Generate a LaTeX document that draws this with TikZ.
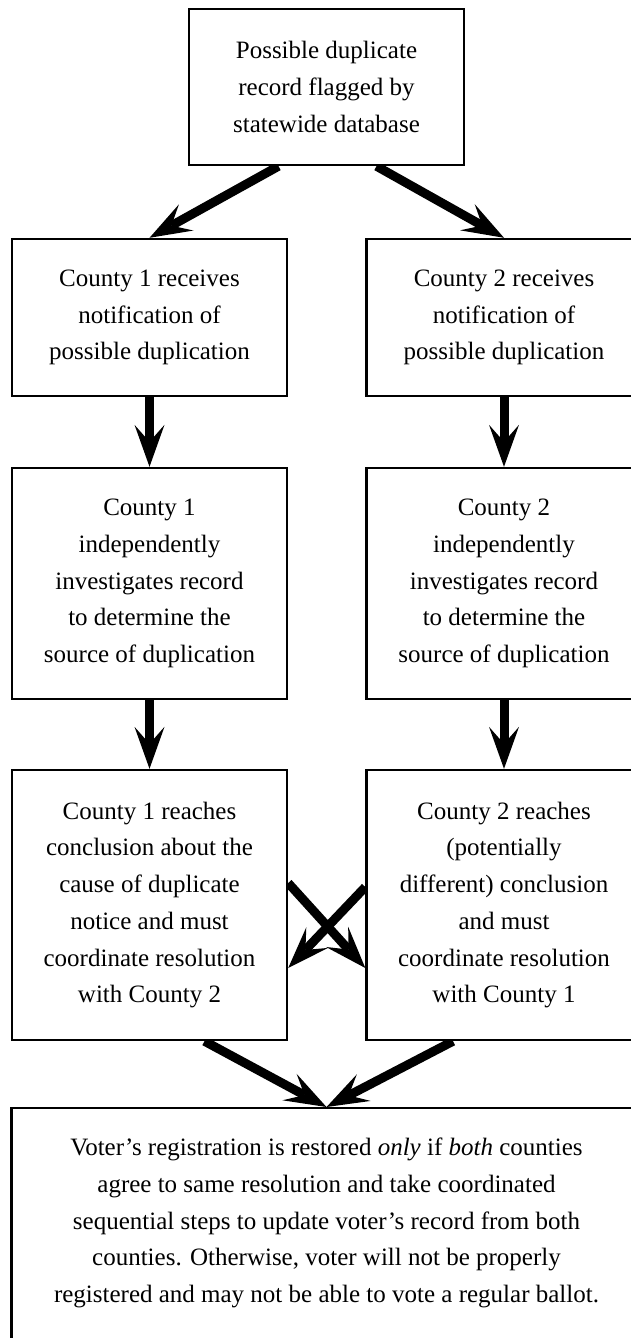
\documentclass[tikz,border=0pt]{standalone}
\usepackage{fontspec}
\setmainfont{Liberation Serif}
\usetikzlibrary{arrows.meta,backgrounds}

\begin{document}
\begin{tikzpicture}[x=1pt,y=-1pt]

\useasboundingbox (0,0) rectangle (631,1338);
\clip (0,0) rectangle (631,1338);

% Draw the boxes of the chart
\tikzstyle{every node}=[draw,fill=white,line width=2.4pt,shape=rectangle,align=center,inner sep=0pt,font=\fontsize{25}{36.7}\selectfont];
\tikzstyle{flow}=[line width=9pt,-{Stealth[length=42pt,width=30pt,inset=17pt,line width=0pt]}];

\node[minimum width=275pt,minimum height=156pt] (t) at (326.5,87)
  {Possible duplicate\\record flagged by\\statewide database};

\foreach \cty/\x in {1/149.5,2/504}{
  \node[minimum width=275pt,minimum height=157pt] (a\cty) at (\x,317.5)
    {County \cty{} receives\\notification of\\possible duplication};
  \node[minimum width=275pt,minimum height=231pt] (b\cty) at (\x,583.5)
    {County \cty\\independently\\investigates record\\to determine the\\source of duplication};
}

\node[minimum width=275pt,minimum height=270pt] (c1) at (149.5,905)
  {County 1 reaches\\conclusion about the\\cause of duplicate\\notice and must\\coordinate resolution\\with County 2};
\node[minimum width=275pt,minimum height=270pt] (c2) at (504,905)
  {County 2 reaches\\(potentially\\different) conclusion\\and must\\coordinate resolution\\with County 1};

% The last box runs on below the page
\node[minimum width=630pt,inner ysep=30pt,text depth=190pt,anchor=north] (r) at (326.5,1107)
  {Voter's registration is restored \emph{only} if \emph{both} counties\\agree to same resolution and take coordinated\\sequential steps to update voter's record from both\\counties. Otherwise, voter will not be properly\\registered and may not be able to vote a regular ballot.};

% Arrows go behind the boxes
\begin{scope}[on background layer]
\draw[flow] ([xshift=-48pt]t.south) -- (a1.north);
\draw[flow] ([xshift=50pt]t.south) -- (a2.north);

\foreach \cty in {1,2}{
  \draw[flow] (a\cty) -- (b\cty);
  \draw[flow] (b\cty) -- (c\cty);
}

% Counties coordinate with each other
\draw[flow] ([yshift=22pt]c1.east) -- ([yshift=-63pt]c2.west);
\draw[flow] ([yshift=18pt]c2.west) -- ([yshift=-63pt]c1.east);

\draw[flow] ([xshift=55pt]c1.south) -- (r.north);
\draw[flow] ([xshift=-51pt]c2.south) -- (r.north);
\end{scope}

\end{tikzpicture}
\end{document}
